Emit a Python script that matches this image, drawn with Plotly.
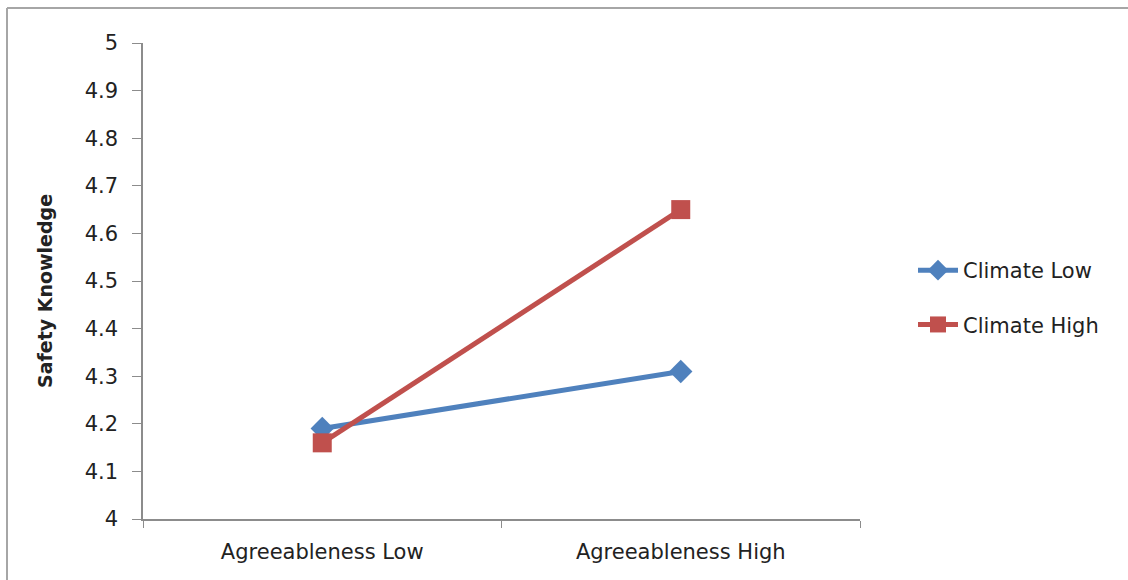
import plotly.graph_objects as go

# Interaction plot: safety knowledge by agreeableness and safety climate
categories = ["Agreeableness Low", "Agreeableness High"]
climate_low = [4.19, 4.31]
climate_high = [4.16, 4.65]
y_ticks = [4.0, 4.1, 4.2, 4.3, 4.4, 4.5, 4.6, 4.7, 4.8, 4.9, 5.0]
y_tick_text = ["4", "4.1", "4.2", "4.3", "4.4", "4.5", "4.6", "4.7", "4.8", "4.9", "5"]

W, H = 1128, 580
L, R, T, B = 143, 268, 43, 61
FONT = "DejaVu Sans, sans-serif"
AXIS_GRAY = "#8c8c8c"

fig = go.Figure()
fig.add_trace(go.Scatter(
    x=categories, y=climate_low, name="Climate Low", mode="lines+markers",
    line=dict(color="#4F81BD", width=5),
    marker=dict(symbol="diamond", size=18, color="#4F81BD"),
    legendgroup="a",
))
fig.add_trace(go.Scatter(
    x=categories, y=climate_high, name="Climate High", mode="lines+markers",
    line=dict(color="#C0504D", width=5),
    marker=dict(symbol="square", size=19, color="#C0504D"),
    legendgroup="b",
))

# pixel -> paper coordinate helpers
pw, ph = W - L - R, H - T - B
def px_x(p):
    return (p - L) / pw
def px_y(p):
    return (H - B - p) / ph

# outer frame: top and left edges only
frame = dict(color="#a6a6a6", width=2)
shapes = [
    dict(type="line", xref="paper", yref="paper", x0=px_x(7), x1=px_x(W + 5),
         y0=px_y(8), y1=px_y(8), line=frame),
    dict(type="line", xref="paper", yref="paper", x0=px_x(7), x1=px_x(7),
         y0=px_y(8), y1=px_y(H + 5), line=frame),
]

# vertical axis title
annotations = [
    dict(text="<b>Safety Knowledge</b>", xref="paper", yref="paper",
         x=px_x(45), y=px_y(291), xanchor="center", yanchor="middle",
         textangle=-90, showarrow=False,
         font=dict(family=FONT, size=19, color="#222222")),
]

fig.update_layout(
    width=W, height=H,
    margin=dict(l=L, r=R, t=T, b=B),
    paper_bgcolor="white", plot_bgcolor="white",
    font=dict(family=FONT, size=21, color="#222222"),
    shapes=shapes,
    annotations=annotations,
    showlegend=True,
    legend=dict(
        x=px_x(913), xanchor="left", y=px_y(250), yanchor="top",
        traceorder="grouped", tracegroupgap=24,
        font=dict(family=FONT, size=21, color="#222222"),
        itemwidth=40,
    ),
    xaxis=dict(
        type="category", range=[-0.5, 1.5],
        showline=True, linecolor=AXIS_GRAY, linewidth=1.5,
        ticks="outside", tickson="boundaries", ticklen=7, tickcolor=AXIS_GRAY,
        showgrid=False, zeroline=False,
        tickfont=dict(family=FONT, size=21),
        ticklabelstandoff=13,
    ),
    yaxis=dict(
        range=[4, 5], tickvals=y_ticks, ticktext=y_tick_text,
        showline=True, linecolor=AXIS_GRAY, linewidth=1.5,
        ticks="outside", ticklen=9, tickcolor=AXIS_GRAY,
        showgrid=False, zeroline=False,
        tickfont=dict(family=FONT, size=21),
        ticklabelstandoff=10,
    ),
)

fig.write_html("out.html")
